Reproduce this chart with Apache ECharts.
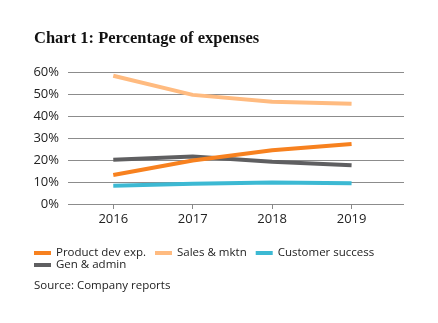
<!DOCTYPE html>
<html>
<head>
<meta charset="utf-8">
<script src="https://cdn.jsdelivr.net/npm/echarts@6/dist/echarts.min.js"></script>
<style>html,body{margin:0;padding:0;background:#fff}#c{width:438px;height:323px}</style>
</head>
<body>
<div id="c"></div>
<script>
var years = [2016, 2017, 2018, 2019];
var productDev = [13.2, 19.8, 24.4, 27.3];
var salesMktn = [58.3, 49.6, 46.5, 45.6];
var customerSuccess = [8.3, 9.2, 9.8, 9.4];
var genAdmin = [20.1, 21.6, 19.2, 17.6];
var yTicks = [0, 10, 20, 30, 40, 50, 60];

function pairs(vals) { return years.map(function (y, i) { return [y, vals[i]]; }); }

var chart = echarts.init(document.getElementById('c'), null, {renderer: 'canvas'});
var font = '"Open Sans", sans-serif';
function line(name, color, vals, z) {
  return {name: name, type: 'line', data: pairs(vals), symbol: 'none', z: z,
    lineStyle: {color: color, width: 4}, itemStyle: {color: color}, animation: false};
}
var legendText = {fontFamily: font, fontSize: 11.5, color: '#222', lineHeight: 14};
chart.setOption({
  backgroundColor: '#fff',
  animation: false,
  title: {text: 'Chart 1: Percentage of expenses', left: 34, top: 30, padding: 0,
    textStyle: {fontFamily: '"Liberation Serif", serif', fontWeight: 'bold', fontSize: 16.5, color: '#111'}},
  grid: {left: 68, right: 34, top: 72, bottom: 119, containLabel: false},
  xAxis: {type: 'value', min: 2015.43, max: 2019.66,
    axisLine: {show: false},
    splitLine: {show: false},
    axisTick: {show: true, customValues: years, length: 5, lineStyle: {color: '#888'}},
    axisLabel: {customValues: years, formatter: function (v) { return String(v); },
      fontFamily: font, fontSize: 13, color: '#222', margin: 9}
  },
  yAxis: {type: 'value', min: 0, max: 60, interval: 10,
    axisLine: {show: false}, axisTick: {show: false},
    splitLine: {lineStyle: {color: '#8c8c8c', width: 1}},
    axisLabel: {formatter: '{value}%', fontFamily: font, fontSize: 13, color: '#222', margin: 9}
  },
  legend: [
    {data: ['Product dev exp.', 'Sales & mktn', 'Customer success'], left: 34, top: 246, orient: 'horizontal',
      icon: 'rect', itemWidth: 17, itemHeight: 4, itemGap: 9, textStyle: legendText, padding: 0},
    {data: ['Gen & admin'], left: 34, top: 258, orient: 'horizontal',
      icon: 'rect', itemWidth: 17, itemHeight: 4, itemGap: 9, textStyle: legendText, padding: 0}
  ],
  graphic: [{type: 'text', left: 34, top: 280,
    style: {text: 'Source: Company reports', font: '11.5px "Open Sans", sans-serif', fill: '#222'}}],
  series: [
    line('Gen & admin', '#5f5f61', genAdmin, 2),
    line('Customer success', '#3cb9d3', customerSuccess, 3),
    line('Sales & mktn', '#ffbb80', salesMktn, 4),
    line('Product dev exp.', '#f7811f', productDev, 5)
  ]
});
</script>
</body>
</html>
